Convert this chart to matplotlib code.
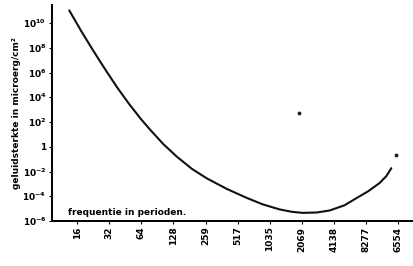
import matplotlib.pyplot as plt

# frequency ticks (periods/s) and labels as printed
freq_ticks = [16, 32, 64, 128, 259, 517, 1035, 2069, 4138, 8277, 16554]
freq_labels = ['16', '32', '64', '128', '259', '517', '1035', '2069', '4138', '8277', '6554']

# y ticks (log10 of intensity)
y_exp = [10, 8, 6, 4, 2, 0, -2, -4, -6]
y_labels = [r'$10^{10}$', r'$10^{8}$', r'$10^{6}$', r'$10^{4}$', r'$10^{2}$', '1',
            r'$10^{-2}$', r'$10^{-4}$', r'$10^{-6}$']

# threshold curve
curve_f = [13.5, 17.4, 22.6, 29.3, 37.9, 49.2, 63.7, 77.4, 102.5, 138.6, 191.7,
           265, 408, 629, 888, 1282, 1661, 2106, 2850, 3774, 5216, 6762, 8762,
           11110, 12920, 14390]
curve_logI = [11.02, 9.38, 7.79, 6.27, 4.82, 3.47, 2.24, 1.40, 0.25, -0.80, -1.78,
              -2.55, -3.40, -4.13, -4.65, -5.06, -5.25, -5.34, -5.31, -5.15, -4.73,
              -4.15, -3.58, -2.94, -2.37, -1.73]

# specks on the scan
speck_f = [1970, 16080]
speck_logI = [2.71, -0.68]

plt.rcParams.update({'font.family': 'DejaVu Sans', 'font.weight': 'bold',
                     'mathtext.default': 'bf'})

fig = plt.figure(figsize=(4.13, 2.66), dpi=100)
ax = fig.add_axes([0.126, 0.169, 0.874, 0.812])

ax.plot(curve_f, [10 ** v for v in curve_logI], color='#111111', linewidth=1.5,
        solid_joinstyle='round', solid_capstyle='round')
ax.plot(speck_f, [10 ** v for v in speck_logI], 'o', color='#222222', markersize=1.8)

ax.set_xscale('log', base=2)
ax.set_yscale('log')
ax.set_xlim(9.3, 23000)
ax.set_ylim(1e-6, 10 ** 11.45)

ax.set_xticks(freq_ticks)
ax.set_xticklabels(freq_labels, rotation=90, fontsize=6.5)
ax.minorticks_off()
ax.set_yticks([10.0 ** e for e in y_exp])
ax.set_yticklabels(y_labels, fontsize=6.5)
ax.tick_params(length=2, width=0.8, pad=2)

ax.spines['top'].set_visible(False)
ax.spines['right'].set_visible(False)
ax.spines['left'].set_linewidth(1.4)
ax.spines['bottom'].set_linewidth(1.4)

ax.set_ylabel('geluidsterkte in microerg/cm²', fontsize=6.5, fontweight='bold',
              labelpad=1)
ax.text(0.045, 0.02, 'frequentie in perioden.', transform=ax.transAxes,
        fontsize=6.5, ha='left', va='bottom')

fig.savefig('out.png', dpi=100, facecolor='white')
